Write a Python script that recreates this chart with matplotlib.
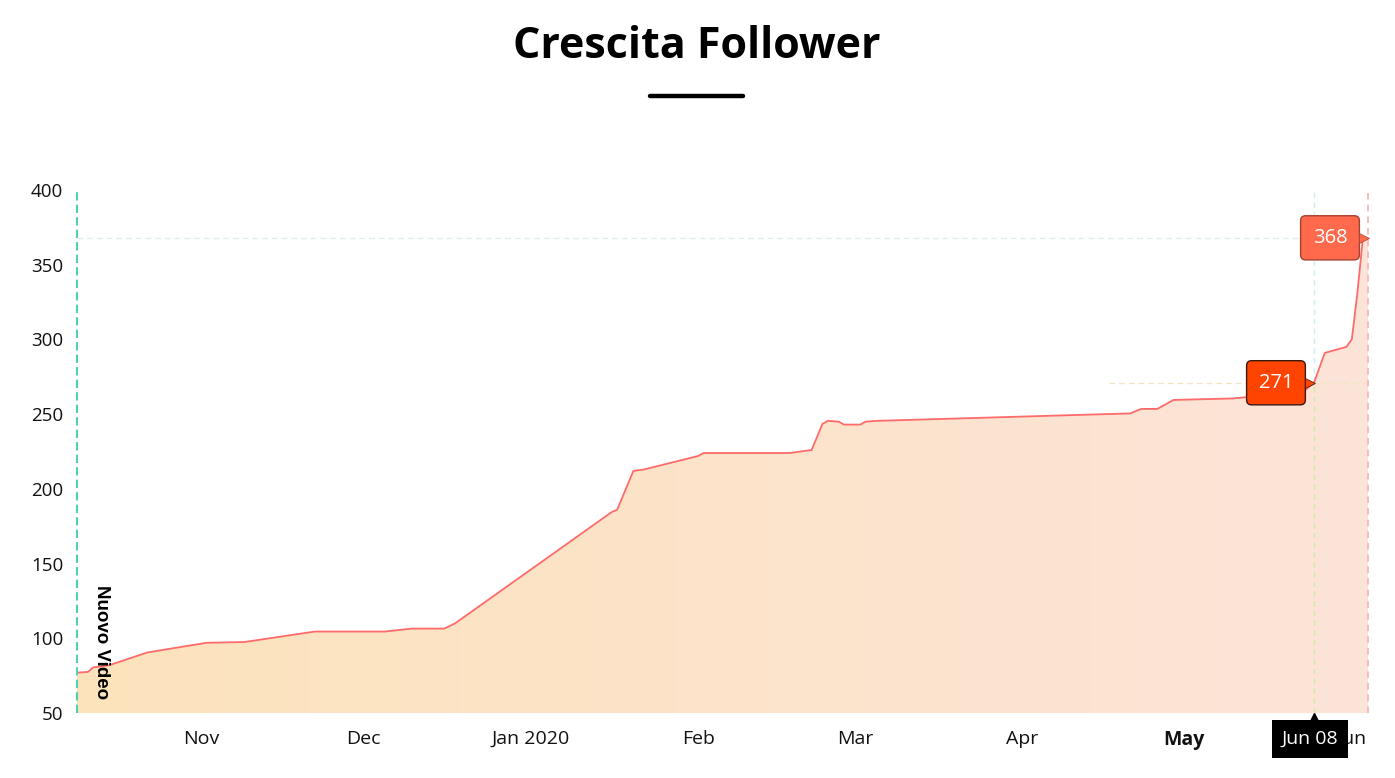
import numpy as np
import matplotlib
matplotlib.use('Agg')
import matplotlib.pyplot as plt
import matplotlib.dates as mdates
import matplotlib.transforms as mtransforms
from matplotlib.lines import Line2D
import pandas as pd

# dati
dates = ['2019-10-23', '2019-10-25', '2019-10-26', '2019-10-29', '2019-11-05',
         '2019-11-16', '2019-11-23', '2019-12-06', '2019-12-19', '2019-12-24',
         '2019-12-30', '2020-01-01', '2020-01-30', '2020-01-31', '2020-02-03',
         '2020-02-05', '2020-02-15', '2020-02-16', '2020-03-03', '2020-03-07',
         '2020-03-09', '2020-03-10', '2020-03-12', '2020-03-13', '2020-03-16',
         '2020-03-17', '2020-03-19', '2020-05-05', '2020-05-07', '2020-05-10',
         '2020-05-13', '2020-05-24', '2020-06-06', '2020-06-08', '2020-06-10',
         '2020-06-14', '2020-06-15', '2020-06-16', '2020-06-17', '2020-06-18']
followers = [77, 77.5, 80.5, 82, 90.5,
             97, 97.5, 104.5, 104.5, 106.5,
             106.5, 110, 184.5, 186, 212,
             213, 222, 224, 224, 226,
             243.5, 245.5, 245, 243, 243,
             245, 245.5, 250.5, 253.5, 253.5,
             259.5, 260.5, 265, 271, 291,
             295, 300, 330, 366, 368]

tick_dates = ['2019-11-15', '2019-12-15', '2020-01-15', '2020-02-15',
              '2020-03-15', '2020-04-15', '2020-05-15', '2020-06-15']
tick_labels = ['Nov', 'Dec', 'Jan 2020', 'Feb', 'Mar', 'Apr', 'May', 'Jun']

video_date = '2019-10-23'
hover_date = '2020-06-08'
hover_value = 271
last_value = 368

x = mdates.date2num(pd.to_datetime(dates))
y = np.array(followers, dtype=float)
xt = mdates.date2num(pd.to_datetime(tick_dates))
xv = mdates.date2num(pd.to_datetime(video_date))
xh = mdates.date2num(pd.to_datetime(hover_date))

fig = plt.figure(figsize=(13.95, 7.78), dpi=100)
ax = fig.add_axes([77 / 1395, 1 - 713 / 778, (1368 - 77) / 1395, (713 - 190) / 778])

ax.set_xlim(x[0], x[-1])
ax.set_ylim(50, 400)

# riempimento con sfumatura
poly = ax.fill_between(x, 50, y, color='none', lw=0)
grad = np.linspace(0, 1, 256).reshape(1, -1)
c0 = np.array([253, 227, 188]) / 255
c1 = np.array([252, 227, 216]) / 255
img = c0[None, None, :] * (1 - grad[..., None]) + c1[None, None, :] * grad[..., None]
im = ax.imshow(img, extent=[x[0], x[-1], 50, 400], aspect='auto', zorder=1)
path = poly.get_paths()[0]
im.set_clip_path(path, ax.transData)

ax.plot(x, y, color='#ff6b6b', lw=1.3, zorder=3)

# linee tratteggiate
ax.axvline(xv, color='#4fd1b0', lw=1.5, ls=(0, (4, 2)), zorder=4, clip_on=False)
ax.axhline(last_value, color='#dff0ea', lw=1, ls=(0, (4, 3)), zorder=2)
ax.plot([mdates.date2num(pd.to_datetime('2020-05-01')), x[-1]], [hover_value, hover_value],
        color='#f1e6c4', lw=1, ls=(0, (4, 3)), zorder=2)
ax.axvline(xh, color='#cdeff0', lw=1, ls=(0, (4, 3)), zorder=2)
ax.plot([xh, xh], [50, hover_value], color='#d6eaa0', lw=1, ls=(0, (4, 3)), zorder=2)
ax.axvline(x[-1], color='#f5b3b8', lw=1.2, ls=(0, (4, 3)), zorder=2, clip_on=False)

ax.text(xv + 4.6, 135.5, 'Nuovo Video', rotation=-90, ha='center', va='top',
        fontsize=13.5, fontweight='bold', family=['Liberation Sans', 'DejaVu Sans'],
        color='black', zorder=5)

# etichette valori
def tag(xx, yy, txt, fc, ec):
    ax.annotate(txt, xy=(xx, yy), xytext=(-38, 0), textcoords='offset pixels',
                ha='center', va='center', color='white', fontsize=14.5, family='Open Sans',
                bbox=dict(boxstyle='round,pad=0.6,rounding_size=0.25', fc=fc, ec=ec, lw=1),
                zorder=6, annotation_clip=False)
    tr = mtransforms.offset_copy(ax.transData, fig=fig, x=-4, y=0, units='dots')
    ax.plot([xx], [yy], marker='>', ms=7, color=fc, mec=ec, mew=0.5, transform=tr,
            zorder=7, clip_on=False)

tag(x[-1], last_value, str(last_value), '#ff6a4d', '#a84030')
tag(xh, hover_value, str(hover_value), '#ff4300', '#3a1a10')

# box data in basso
ax.annotate('Jun 08', xy=(xh, 50), xytext=(-4, -26), textcoords='offset pixels',
            ha='center', va='center', color='white', fontsize=14, family='Open Sans',
            bbox=dict(boxstyle='square,pad=0.5', fc='black', ec='black', lw=0),
            zorder=6, annotation_clip=False)
tr2 = mtransforms.offset_copy(ax.transData, fig=fig, x=0, y=-5, units='dots')
ax.plot([xh], [50], marker='^', ms=7, color='black', transform=tr2, zorder=6, clip_on=False)

ax.set_xticks(xt)
ax.set_xticklabels(tick_labels)
ax.set_yticks(np.arange(50, 401, 50))
ax.tick_params(axis='both', length=0, labelcolor='#111111')
ax.tick_params(axis='x', pad=12, labelsize=14)
ax.tick_params(axis='y', pad=10, labelsize=13.5)
for lab in ax.get_xticklabels() + ax.get_yticklabels():
    lab.set_family('Open Sans')
ax.get_xticklabels()[6].set_fontweight('bold')
for s in ax.spines.values():
    s.set_visible(False)
ax.set_facecolor('none')

fig.text(697 / 1395, 1 - 47 / 778, 'Crescita Follower', ha='center', va='center',
         fontsize=31, fontweight='bold', family='Open Sans', color='black')
fig.add_artist(Line2D([650 / 1395, 743 / 1395], [1 - 96 / 778, 1 - 96 / 778],
                      color='black', lw=3.2, solid_capstyle='round', transform=fig.transFigure))

fig.savefig('out.png', dpi=100)
